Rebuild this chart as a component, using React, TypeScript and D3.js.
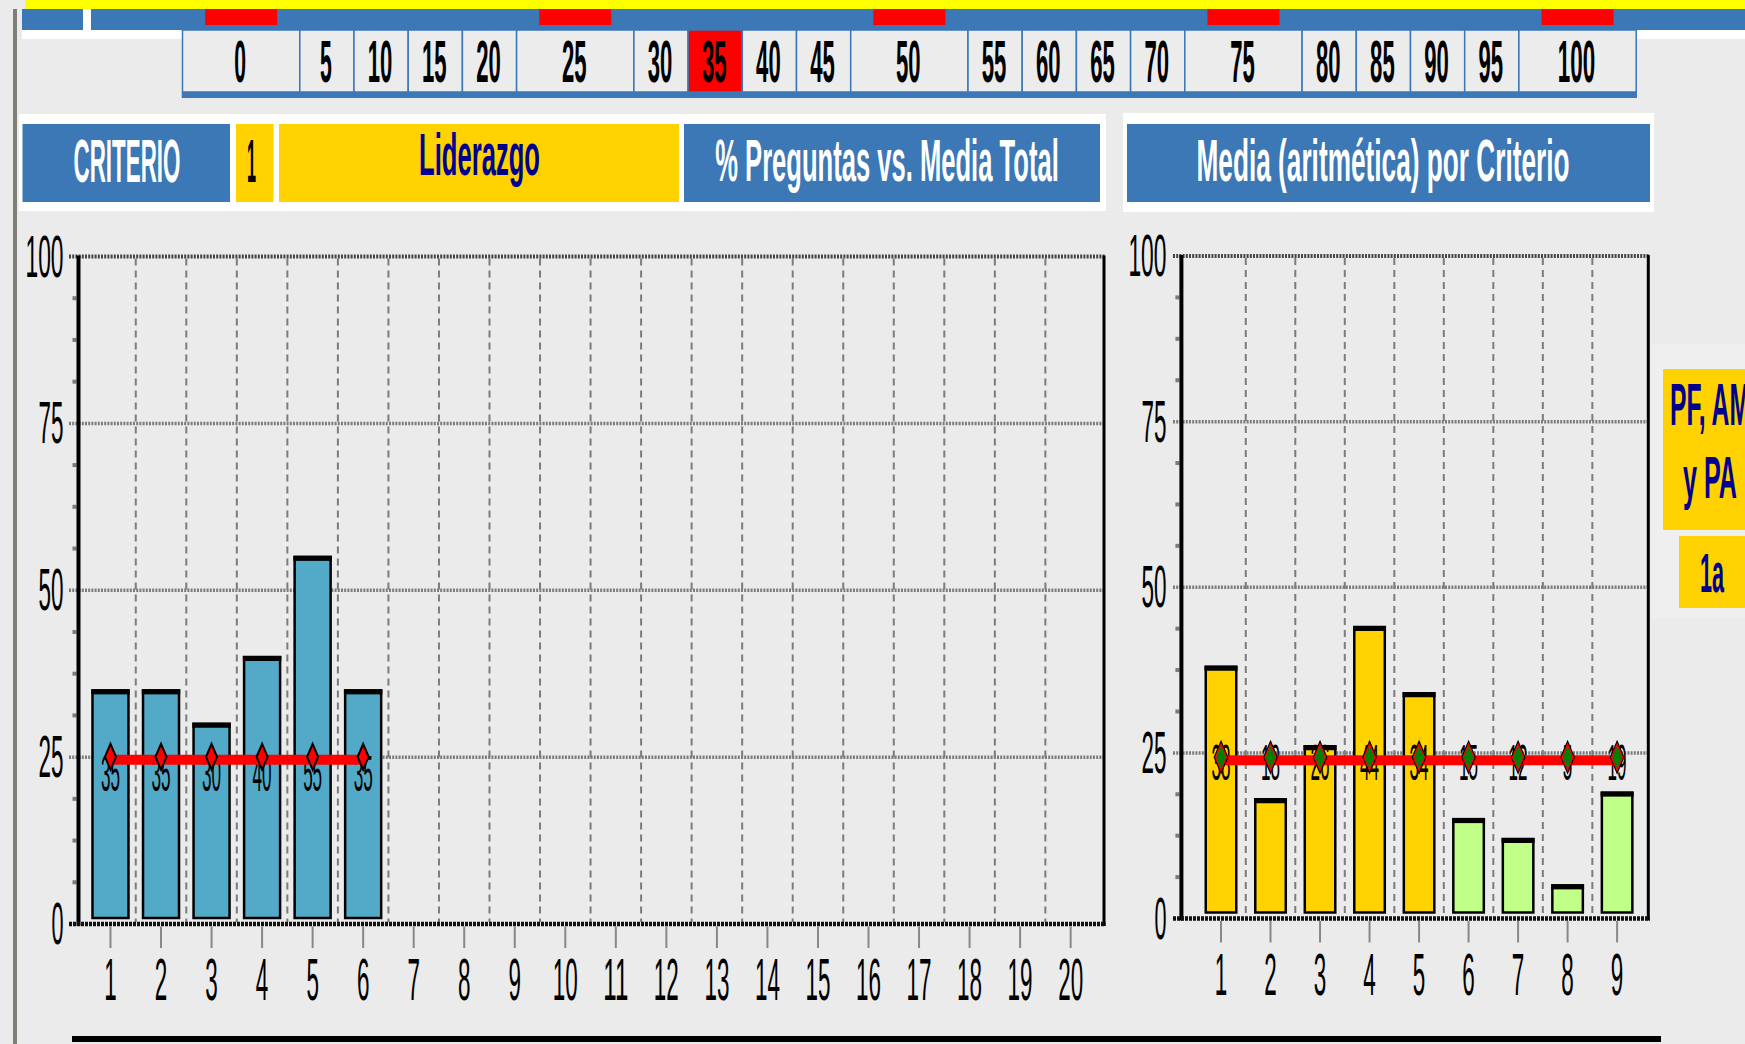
import React from "react";
import * as d3 from "d3";

// ---------- data ----------
const scaleValues = [0, 5, 10, 15, 20, 25, 30, 35, 40, 45, 50, 55, 60, 65, 70, 75, 80, 85, 90, 95, 100];
const scaleHighlight = 35;

const headerCriterio = "CRITERIO";
const headerNumber = "1";
const headerName = "Liderazgo";
const headerLeftTitle = "% Preguntas vs. Media Total";
const headerRightTitle = "Media (aritmética) por Criterio";
const sideLabelLine1 = "PF, AM";
const sideLabelLine2 = "y PA";
const sideLabel2 = "1a";

const yTicks = [0, 25, 50, 75, 100];

const leftCategories = d3.range(1, 21);
const leftValues = [35, 35, 30, 40, 55, 35];
const leftMean = 24.6;

const rightCategories = d3.range(1, 10);
const rightValues = [38, 18, 26, 44, 34, 15, 12, 5, 19];
const rightGroups = ["A", "A", "A", "A", "A", "B", "B", "B", "B"];
const rightMean = 23.9;

// ---------- styles ----------
const FONT = "'Liberation Sans', Arial, sans-serif";
const BG = "#ebebeb";
const BLUE = "#3b78b5";
const GOLD = "#ffd200";
const NAVY = "#000090";
const BAR_BLUE = "#52aac8";
const BAR_GREEN = "#c0ff88";
const GRAY = "#7c7c7c";

function T({ x, y, w, cap, anchor = "middle", fill = "#000", weight = 400, children }: any) {
  const size = cap / 0.716;
  const x0 = anchor === "middle" ? x - w / 2 : anchor === "end" ? x - w : x;
  return (
    <text
      x={x0}
      y={y}
      fontSize={size}
      fontFamily={FONT}
      fontWeight={weight}
      fill={fill}
      textLength={w}
      lengthAdjust="spacingAndGlyphs"
    >
      {children}
    </text>
  );
}

function Chart({ x, y, categories, values, colorOf, barWidth, mean, labelBaseline, xLabelBaseline, markerKind, gridLeft }: any) {
  const [x0, x1] = x.range();
  const y0 = y(0);
  const yTop = y(100);
  const minor = d3.range(1, 16).map((i) => i * 6.25).filter((v) => v % 25 !== 0);
  const vgrid = categories.slice(0, -1).map((c: number) => c + 0.5);
  const barBottom = y0 - 6;
  const ym = y(mean);
  const n = values.length;
  return (
    <g>
      {vgrid.map((g: number) => (
        <line key={"vg" + g} x1={x(g)} x2={x(g)} y1={yTop + 2} y2={y0 - 2} stroke={GRAY} strokeWidth={2} strokeDasharray="7,5" />
      ))}
      {yTicks.filter((t) => t !== 0 && t !== 100).map((t) => (
        <line key={"hg" + t} x1={gridLeft} x2={x1} y1={y(t)} y2={y(t)} stroke={GRAY} strokeWidth={3.5} strokeDasharray="2,1.2" />
      ))}
      <line x1={gridLeft} x2={x1 + 1} y1={yTop} y2={yTop} stroke="#444" strokeWidth={4} strokeDasharray="2,1.2" />
      {minor.map((v) => (
        <rect key={"mt" + v} x={x0 - 6} y={y(v) - 2} width={4} height={4} fill={GRAY} />
      ))}
      {values.map((v: number, i: number) => {
        const cx = x(categories[i]);
        return (
          <g key={"b" + i}>
            <rect x={cx - barWidth / 2} y={y(v)} width={barWidth} height={barBottom - y(v)} fill={colorOf(i)} stroke="#000" strokeWidth={2.5} />
            <rect x={cx - barWidth / 2 - 1.25} y={y(v) - 1} width={barWidth + 2.5} height={5} fill="#000" />
          </g>
        );
      })}
      {values.map((v: number, i: number) => {
        const s = String(v);
        return (
          <T key={"vl" + i} x={x(categories[i])} y={labelBaseline} w={s.length * 9.5} cap={36}>
            {s}
          </T>
        );
      })}
      <line x1={x(categories[0])} x2={x(categories[n - 1])} y1={ym} y2={ym} stroke="#ff0000" strokeWidth={10} />
      {values.map((v: number, i: number) => {
        const cx = x(categories[i]);
        const p = `M${cx},${ym - 16} L${cx + 5.5},${ym - 3} L${cx},${ym + 10} L${cx - 5.5},${ym - 3} Z`;
        return markerKind === "red" ? (
          <path key={"mk" + i} d={p} fill="#ff0000" stroke="#000" strokeWidth={2} />
        ) : (
          <g key={"mk" + i}>
            <path d={p} fill="none" stroke="#000" strokeWidth={3.5} />
            <path d={p} fill="#008000" stroke="#ff0000" strokeWidth={1.3} />
          </g>
        );
      })}
      <line x1={x0} x2={x0} y1={yTop - 1} y2={y0 + 2} stroke="#000" strokeWidth={4} />
      <line x1={x1} x2={x1} y1={yTop - 1} y2={y0 + 2} stroke="#000" strokeWidth={3} />
      <line x1={gridLeft} x2={x1 + 1.5} y1={y0} y2={y0} stroke="#111" strokeWidth={4.5} strokeDasharray="3,1" />
      {categories.map((c: number) => {
        const s = String(c);
        return (
          <g key={"xt" + c}>
            <line x1={x(c)} x2={x(c)} y1={y0 + 2.5} y2={y0 + 24} stroke="#888" strokeWidth={2} />
            <T x={x(c)} y={xLabelBaseline} w={s.length * 12.5} cap={42}>
              {s}
            </T>
          </g>
        );
      })}
      {yTicks.map((t) => {
        const s = String(t);
        return (
          <T key={"yl" + t} x={x0 - 15} y={y(t) + 20} w={s.length * 13 - 1} cap={42} anchor="end">
            {s}
          </T>
        );
      })}
    </g>
  );
}

export default function App() {
  const wideW = 117.3;
  const narrowW = 54.2;
  const cellStart = 182.5;
  const cells: { v: number; x: number; w: number }[] = [];
  let cx = cellStart;
  scaleValues.forEach((v) => {
    const w = v % 25 === 0 ? wideW : narrowW;
    cells.push({ v, x: cx, w });
    cx += w;
  });
  const cellEnd = cx;

  const xL = d3.scaleLinear().domain([0.367, 20.66]).range([78.5, 1104]);
  const yL = d3.scaleLinear().domain([0, 100]).range([924, 256.5]);
  const xR = d3.scaleLinear().domain([0.2, 9.63]).range([1181.4, 1648.3]);
  const yR = d3.scaleLinear().domain([0, 100]).range([918.5, 256]);

  return (
    <div style={{ position: "absolute", left: 0, top: 0 }}>
      <svg width={1745} height={1044} style={{ display: "block" }}>
        <rect x={0} y={0} width={1745} height={1044} fill={BG} />
        <rect x={13} y={9} width={4} height={1035} fill="#7f7f78" />

        <rect x={25} y={0} width={1720} height={9} fill="#ffff00" />
        <rect x={22} y={9} width={1723} height={21} fill={BLUE} />
        <rect x={83} y={9} width={8} height={21} fill="#ffffff" />
        {cells.filter((c) => c.v % 25 === 0).map((c) => (
          <rect key={"rs" + c.v} x={c.x + c.w / 2 - 36} y={9} width={72} height={16} fill="#ff0000" />
        ))}
        <rect x={22} y={30} width={cellStart - 22} height={9} fill="#ffffff" />
        <rect x={cellEnd} y={30} width={1745 - cellEnd} height={9} fill="#ffffff" />

        {cells.map((c) => (
          <g key={"c" + c.v}>
            <rect x={c.x} y={30} width={c.w} height={62} fill={c.v === scaleHighlight ? "#ff0000" : "#ececec"} stroke={BLUE} strokeWidth={1.5} />
            <T x={c.x + c.w / 2 - 1} y={82} w={String(c.v).length * 12.8 - 1} cap={42} weight={700}>
              {String(c.v)}
            </T>
          </g>
        ))}
        <rect x={cellStart - 0.75} y={92} width={cellEnd - cellStart + 1.5} height={6} fill={BLUE} />

        <rect x={19} y={114} width={1087} height={97} fill="#ffffff" />
        <rect x={1123} y={113} width={531} height={99} fill="#ffffff" />
        <rect x={22.5} y={124} width={207.5} height={78} fill={BLUE} />
        <rect x={236} y={124} width={37.5} height={78} fill={GOLD} />
        <rect x={279} y={124} width={400} height={78} fill={GOLD} />
        <rect x={684} y={124} width={416} height={78} fill={BLUE} />
        <rect x={1127} y={124} width={523} height={78} fill={BLUE} />
        <T x={127} y={182} w={107} cap={44} fill="#ffffff" weight={700}>{headerCriterio}</T>
        <T x={251.5} y={182} w={9} cap={44} fill="#000" weight={700}>{headerNumber}</T>
        <T x={479.5} y={175} w={121} cap={42} fill={NAVY} weight={700}>{headerName}</T>
        <T x={887} y={181} w={343.5} cap={43} fill="#ffffff" weight={700}>{headerLeftTitle}</T>
        <T x={1383} y={181} w={373} cap={43} fill="#ffffff" weight={700}>{headerRightTitle}</T>

        <rect x={1651} y={344} width={94} height={274} fill="#efefef" />
        <rect x={1663} y={369} width={82} height={161} fill={GOLD} />
        <rect x={1679} y={536} width={66} height={72} fill={GOLD} />
        <T x={1670} y={425} w={80} cap={42} fill={NAVY} weight={700} anchor="start">{sideLabelLine1}</T>
        <T x={1683} y={498} w={54} cap={42} fill={NAVY} weight={700} anchor="start">{sideLabelLine2}</T>
        <T x={1700} y={592} w={24} cap={40} fill={NAVY} weight={700} anchor="start">{sideLabel2}</T>

        <Chart
          x={xL}
          y={yL}
          categories={leftCategories}
          values={leftValues}
          colorOf={() => BAR_BLUE}
          barWidth={36}
          mean={leftMean}
          labelBaseline={791}
          xLabelBaseline={1000}
          markerKind="red"
          gridLeft={69}
        />
        <Chart
          x={xR}
          y={yR}
          categories={rightCategories}
          values={rightValues}
          colorOf={(i: number) => (rightGroups[i] === "A" ? GOLD : BAR_GREEN)}
          barWidth={30.5}
          mean={rightMean}
          labelBaseline={780}
          xLabelBaseline={995}
          markerKind="green"
          gridLeft={1173}
        />

        <rect x={72} y={1036} width={1589} height={6} fill="#000" />
      </svg>
    </div>
  );
}
